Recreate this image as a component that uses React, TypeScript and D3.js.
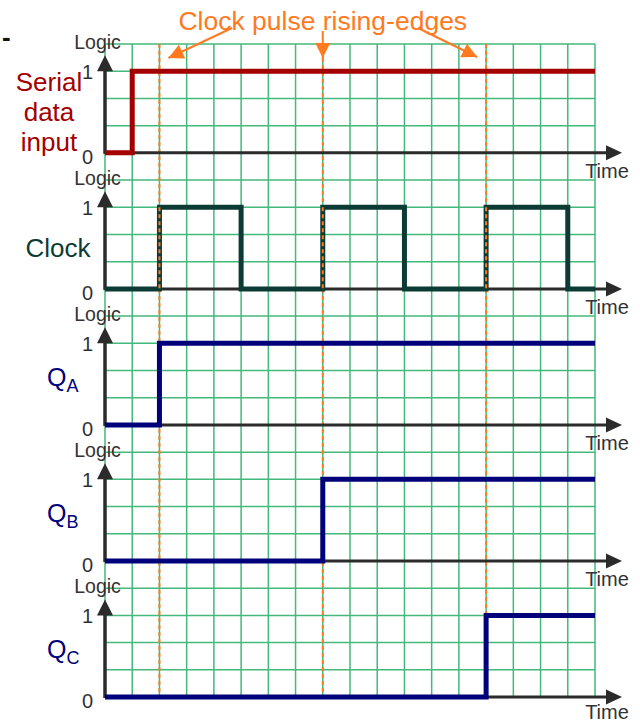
import React from 'react';
import * as d3 from 'd3';

// Grid: 18 columns of time, 24 rows shared by the five stacked panels
const gridCols = d3.range(0, 19);
const gridRows = d3.range(0, 25);

// Clock rising edges (in grid columns)
const risingEdges = [2, 8, 14];

// Signals: step times (grid columns) and the logic level held from that time on
const serialTimes = [0, 1, 18];
const serialLevels = [0, 1, 1];
const clockTimes = [0, 2, 5, 8, 11, 14, 17, 18];
const clockLevels = [0, 1, 0, 1, 0, 1, 0, 0];
const qaTimes = [0, 2, 18];
const qaLevels = [0, 1, 1];
const qbTimes = [0, 8, 18];
const qbLevels = [0, 1, 1];
const qcTimes = [0, 14, 18];
const qcLevels = [0, 1, 1];

const levelTicks = ['0', '1'];
const titleText = 'Clock pulse rising-edges';

const FONT = '"Liberation Sans", Arial, Helvetica, sans-serif';
const GRID = '#43b97b';
const ORANGE = '#ff7a1f';
const AXIS = '#2b2b2b';

type Panel = {
  times: number[];
  levels: number[];
  color: string;
  label: string[];
  sub?: string;
};

const panels: Panel[] = [
  { times: serialTimes, levels: serialLevels, color: '#a30000', label: ['Serial', 'data', 'input'] },
  { times: clockTimes, levels: clockLevels, color: '#0c3b35', label: ['Clock'] },
  { times: qaTimes, levels: qaLevels, color: '#00007a', label: ['Q'], sub: 'A' },
  { times: qbTimes, levels: qbLevels, color: '#00007a', label: ['Q'], sub: 'B' },
  { times: qcTimes, levels: qcLevels, color: '#00007a', label: ['Q'], sub: 'C' },
];

const x = d3.scaleLinear().domain([0, 18]).range([105, 595]);
const row = d3.scaleLinear().domain([0, 24]).range([44, 697]);

const arrowHead = (tx: number, ty: number, fx: number, fy: number, len = 15, half = 7.5) => {
  const a = Math.atan2(ty - fy, tx - fx);
  const bx = tx - len * Math.cos(a);
  const by = ty - len * Math.sin(a);
  const px = -Math.sin(a) * half;
  const py = Math.cos(a) * half;
  return `M${tx},${ty}L${bx + px},${by + py}L${bx - px},${by - py}Z`;
};

export default function App() {
  const x0 = x(0);
  const x1 = x(18);

  const titleArrows = [
    { fx: 232, fy: 28, tx: x(risingEdges[0]) + 9, ty: 58 },
    { fx: x(risingEdges[1]), fy: 31, tx: x(risingEdges[1]), ty: 58 },
    { fx: 418, fy: 28, tx: x(risingEdges[2]) - 9, ty: 57 },
  ];

  return (
    <svg width={640} height={722} style={{ position: 'absolute', left: 0, top: 0, background: '#fff' }} fontFamily={FONT}>
      {/* grid */}
      <g stroke={GRID} strokeWidth={1.5}>
        {gridCols.map(c => (
          <line key={'c' + c} x1={x(c)} x2={x(c)} y1={row(0)} y2={row(24)} />
        ))}
        {gridRows.map(r => (
          <line key={'r' + r} x1={x0} x2={x1} y1={row(r)} y2={row(r)} />
        ))}
      </g>

      {/* rising-edge markers */}
      {risingEdges.map(e => (
        <line key={e} x1={x(e)} x2={x(e)} y1={row(0)} y2={row(24) + 4} stroke={ORANGE} strokeWidth={2} strokeDasharray="4,3" />
      ))}

      {panels.map((p, k) => {
        const y = d3.scaleLinear().domain([0, 1]).range([row(4 + 5 * k), row(1 + 5 * k)]);
        const pts = p.times.map((t, i) => [t, p.levels[i]] as [number, number]);
        const line = d3.line<[number, number]>()
          .x(d => x(d[0]))
          .y(d => y(d[1]))
          .curve(d3.curveStepAfter);
        const y0 = y(0);
        const y1 = y(1);
        const mid = (y0 + y1) / 2;
        return (
          <g key={k}>
            {/* time axis */}
            <line x1={x0} x2={x1 + 12} y1={y0} y2={y0} stroke={AXIS} strokeWidth={3} />
            <path d={arrowHead(x1 + 27, y0, x0, y0, 16, 7.5)} fill={AXIS} />
            <text x={607} y={Math.min(y0 + 25, 719)} fontSize={20} fill="#333" textAnchor="middle">Time</text>
            {/* logic axis */}
            <line x1={x0} x2={x0} y1={y0 + 1} y2={y1 - 2} stroke={AXIS} strokeWidth={3.5} />
            <path d={arrowHead(x0, y1 - 16, x0, y0, 16, 8)} fill={AXIS} />
            <text x={97.5} y={y1 - 22} fontSize={19.5} fill="#333" textAnchor="middle">Logic</text>
            {levelTicks.map((t, i) => (
              <text key={t} x={93} y={y(i) + (i === 0 ? 11 : 8)} fontSize={20} fill="#333" textAnchor="end">{t}</text>
            ))}
            {/* signal */}
            <path d={line(pts) ?? ''} fill="none" stroke={p.color} strokeWidth={5} strokeLinejoin="miter" strokeLinecap="butt" />
            {/* clock edges show the marker dashes on top */}
            {p.label[0] === 'Clock' && risingEdges.map(e => (
              <line key={'o' + e} x1={x(e)} x2={x(e)} y1={y1} y2={y0} stroke={ORANGE} strokeWidth={2} strokeDasharray="4,3" />
            ))}
            {/* label */}
            {p.sub ? (
              <text x={47} y={y1 + 43} fill={p.color} fontSize={25}>
                Q<tspan fontSize={18} dy={6}>{p.sub}</tspan>
              </text>
            ) : (
              p.label.map((s, i) => (
                <text key={s} x={p.label.length > 1 ? 49 : 58} y={mid + 9 + (i - (p.label.length - 1) / 2) * 30}
                  fontSize={26} fill={p.color} textAnchor="middle">{s}</text>
              ))
            )}
          </g>
        );
      })}

      {/* title + arrows */}
      <text x={x(risingEdges[1])} y={30} fontSize={26.5} fill={ORANGE} textAnchor="middle">{titleText}</text>
      {titleArrows.map((a, i) => (
        <g key={i}>
          <line x1={a.fx} y1={a.fy} x2={a.tx} y2={a.ty} stroke={ORANGE} strokeWidth={2} />
          <path d={arrowHead(a.tx, a.ty, a.fx, a.fy, 15, 7.5)} fill={ORANGE} />
        </g>
      ))}

      <text x={2} y={46} fontSize={26} fontWeight="bold" fill="#111">-</text>
    </svg>
  );
}
